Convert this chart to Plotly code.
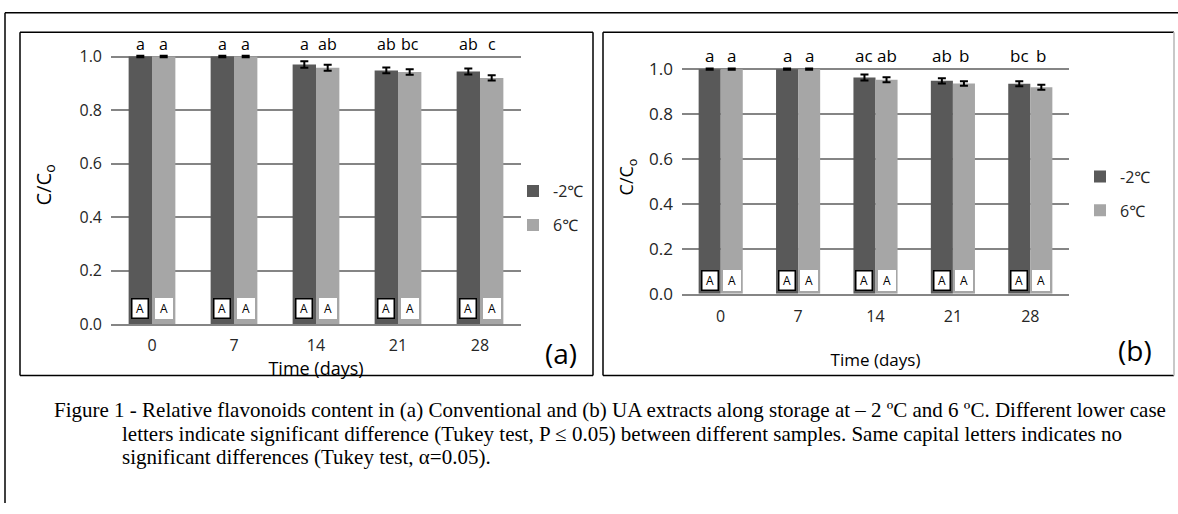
import plotly.graph_objects as go

W, H = 1178, 514

# ---------------- data ----------------
days = ["0", "7", "14", "21", "28"]
series_names = ["-2℃", "6℃"]

a_cold = [1.0, 1.0, 0.970, 0.948, 0.944]
a_cold_err = [0.003, 0.003, 0.012, 0.011, 0.011]
a_warm = [1.0, 1.0, 0.958, 0.942, 0.920]
a_warm_err = [0.003, 0.003, 0.011, 0.010, 0.010]

b_cold = [1.0, 1.0, 0.963, 0.948, 0.935]
b_cold_err = [0.003, 0.003, 0.013, 0.012, 0.011]
b_warm = [1.0, 1.0, 0.953, 0.936, 0.920]
b_warm_err = [0.003, 0.003, 0.011, 0.010, 0.011]

letters_a_cold = ["a", "a", "a", "ab", "ab"]
letters_a_warm = ["a", "a", "ab", "bc", "c"]
letters_b_cold = ["a", "a", "ac", "ab", "bc"]
letters_b_warm = ["a", "a", "ab", "b", "b"]
capitals_cold = ["A", "A", "A", "A", "A"]
capitals_warm = ["A", "A", "A", "A", "A"]

caption_lines = [
    "Figure 1 - Relative flavonoids content in (a) Conventional and (b) UA extracts along storage at – 2 ºC and 6 ºC. Different lower case",
    "letters indicate significant difference (Tukey test, P ≤ 0.05) between different samples. Same capital letters indicates no",
    "significant differences (Tukey test, α=0.05).",
]

# ---------------- style ----------------
DARK = "#595959"
LIGHT = "#a6a6a6"
GRID = "#858585"
TXT = "#262626"
SANS = "Open Sans, Noto Sans, sans-serif"
SERIF = "Liberation Serif, Times New Roman, serif"
BARGAP = 0.43
OFF = (1 - BARGAP) / 4


def px(x):
    return x / W


def py(y):
    return 1 - y / H


fig = go.Figure()

panels = [
    dict(x="x", y="y", legend="legend", cold=a_cold, cold_err=a_cold_err,
         warm=a_warm, warm_err=a_warm_err, lc=letters_a_cold, lw=letters_a_warm, fs=16),
    dict(x="x2", y="y2", legend="legend2", cold=b_cold, cold_err=b_cold_err,
         warm=b_warm, warm_err=b_warm_err, lc=letters_b_cold, lw=letters_b_warm, fs=17),
]

annotations = []
for p in panels:
    for name, vals, errs, col, grp in [
        (series_names[0], p["cold"], p["cold_err"], DARK, "c"),
        (series_names[1], p["warm"], p["warm_err"], LIGHT, "w"),
    ]:
        fig.add_trace(go.Bar(
            x=days, y=vals, name=name, marker=dict(color=col, line=dict(width=0)),
            error_y=dict(type="data", array=errs, visible=True, color="black",
                         thickness=2, width=4),
            xaxis=p["x"], yaxis=p["y"], legend=p["legend"], legendgroup=p["legend"] + grp,
        ))
    for i in range(len(days)):
        for lab, sign in [(p["lc"][i], -1), (p["lw"][i], 1)]:
            annotations.append(dict(
                x=i + sign * OFF, y=1.0, xref=p["x"], yref=p["y"], text=lab,
                showarrow=False, font=dict(family=SANS, size=p["fs"], color="black"),
                xanchor="center", yanchor="bottom", yshift=0))
        annotations.append(dict(
            x=i - OFF, y=0.059, xref=p["x"], yref=p["y"], text=capitals_cold[i],
            showarrow=False, font=dict(family=SANS, size=12, color="black"),
            bgcolor="white", bordercolor="black", borderwidth=1.5, borderpad=1,
            width=13, height=16, xanchor="center", yanchor="middle"))
        annotations.append(dict(
            x=i + OFF, y=0.059, xref=p["x"], yref=p["y"], text=capitals_warm[i],
            showarrow=False, font=dict(family=SANS, size=12, color="black"),
            bgcolor="white", bordercolor="white", borderwidth=1.5, borderpad=1,
            width=13, height=16, xanchor="center", yanchor="middle"))

# panel tags
annotations.append(dict(x=px(561), y=py(360), xref="paper", yref="paper", text="(a)",
                        showarrow=False, font=dict(family=SANS, size=28, color="black"),
                        xanchor="center", yanchor="middle"))
annotations.append(dict(x=px(1135), y=py(357), xref="paper", yref="paper", text="(b)",
                        showarrow=False, font=dict(family=SANS, size=28, color="black"),
                        xanchor="center", yanchor="middle"))

# caption
cap_pos = [(52, 418), (120, 443), (120, 467)]
for (cx, cy), line in zip(cap_pos, caption_lines):
    annotations.append(dict(x=px(cx), y=py(cy), xref="paper", yref="paper", text=line,
                            showarrow=False, font=dict(family=SERIF, size=21, color="black"),
                            xanchor="left", yanchor="middle"))

# borders
shapes = []


def line(x0, y0, x1, y1, color="black", width=1.5):
    shapes.append(dict(type="line", xref="paper", yref="paper",
                       x0=px(x0), y0=py(y0), x1=px(x1), y1=py(y1),
                       line=dict(color=color, width=width)))


line(5, 10, 1178, 10)
line(5, 10, 5, 514)
# panel (a)
line(20, 30, 593, 30)
line(20, 30, 20, 383)
line(20, 383, 593, 383)
line(593, 30, 593, 383)
# panel (b)
line(603, 30, 1174, 30)
line(603, 30, 603, 383)
line(603, 383, 1174, 383)
line(1174, 30, 1174, 383, color="#c8c8c8", width=2)

xcommon = dict(type="category", showgrid=False, showline=True, linecolor=GRID, linewidth=1.5,
               ticks="", zeroline=False)
ycommon = dict(range=[0, 1.04], dtick=0.2, tickformat=".1f", showgrid=True, gridcolor=GRID,
               gridwidth=1.5, zeroline=False, showline=False, ticks="")

fig.update_layout(
    width=W, height=H, margin=dict(l=0, r=0, t=0, b=0),
    paper_bgcolor="white", plot_bgcolor="white",
    barmode="group", bargap=BARGAP, bargroupgap=0,
    xaxis=dict(**xcommon, domain=[px(111), px(521)], anchor="y", ticklabelstandoff=6,
               tickfont=dict(family=SANS, size=16, color=TXT),
               title=dict(text="Time (days)", font=dict(family=SANS, size=18, color="black"), standoff=4)),
    yaxis=dict(**ycommon, domain=[py(330), py(44)], anchor="x", ticklabelstandoff=8,
               tickfont=dict(family=SANS, size=16, color=TXT),
               title=dict(text="C/C<sub>o</sub>", font=dict(family=SANS, size=20, color="black"), standoff=22)),
    xaxis2=dict(**xcommon, domain=[px(682), px(1069)], anchor="y2", ticklabelstandoff=7,
                tickfont=dict(family=SANS, size=16, color=TXT),
                title=dict(text="Time (days)", font=dict(family=SANS, size=17, color="black"), standoff=28)),
    yaxis2=dict(**ycommon, domain=[py(299), py(58.8)], anchor="x2", ticklabelstandoff=8,
                tickfont=dict(family=SANS, size=17, color=TXT),
                title=dict(text="C/C<sub>o</sub>", font=dict(family=SANS, size=18, color="black"), standoff=10)),
    legend=dict(x=px(513), y=py(176), xanchor="left", yanchor="top", tracegroupgap=10,
                font=dict(family=SANS, size=16, color=TXT), bgcolor="rgba(0,0,0,0)"),
    legend2=dict(x=px(1080), y=py(161), xanchor="left", yanchor="top", tracegroupgap=10,
                 font=dict(family=SANS, size=16, color=TXT), bgcolor="rgba(0,0,0,0)"),
    annotations=annotations,
    shapes=shapes,
    showlegend=True,
)

fig.write_html("out.html", config={"displayModeBar": False},
               post_script="document.body.style.margin='0';document.body.style.padding='0';")
